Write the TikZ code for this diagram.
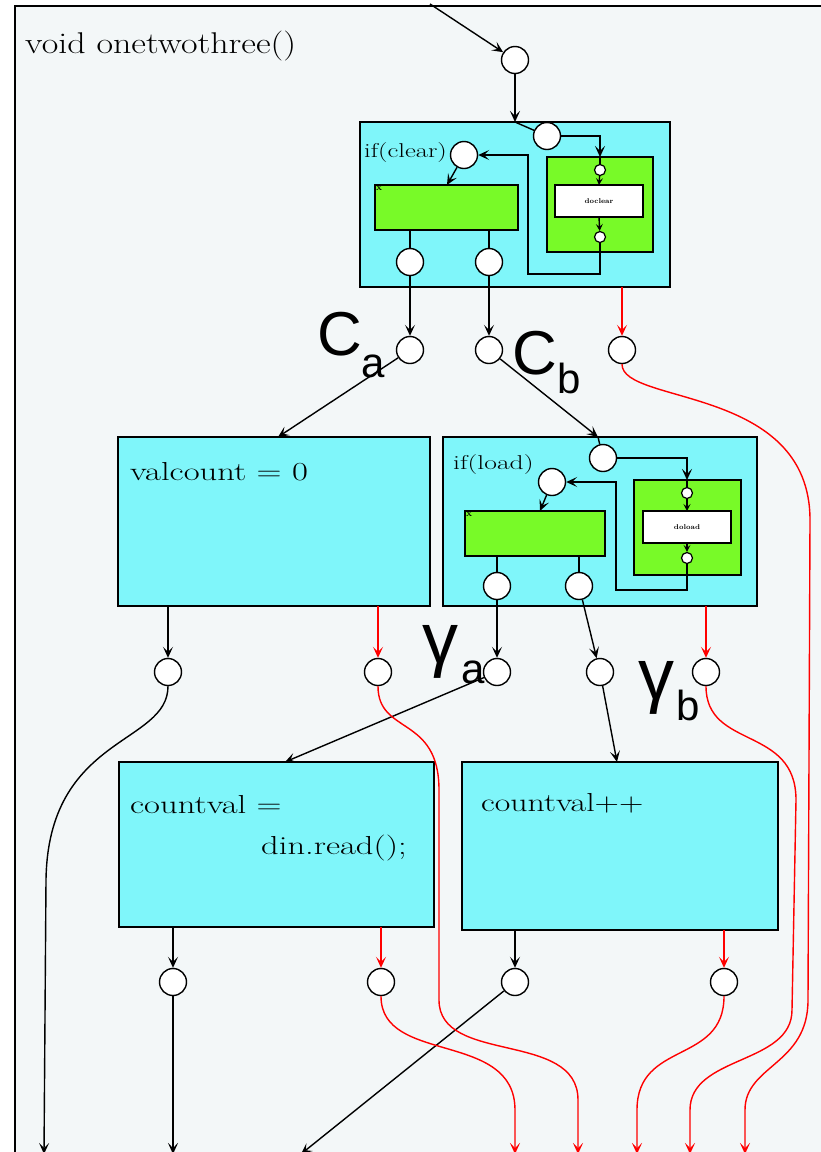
\documentclass[tikz,border=0pt]{standalone}
\usepackage{fontspec}
\usepackage{graphicx}
\newfontfamily\labfont{Liberation Sans}
\newcommand\widetxt[2]{\scalebox{#1}[1]{#2}}
\usetikzlibrary{arrows.meta}
\definecolor{bg}{HTML}{F3F7F8}
\definecolor{cy}{HTML}{7FF6FA}
\definecolor{gr}{HTML}{78FA28}
\tikzset{
  port/.style={circle, draw, fill=white, line width=1.4pt, minimum size=27pt, inner sep=0pt},
  sport/.style={circle, draw, fill=white, line width=1.2pt, minimum size=11pt, inner sep=0pt},
  blk/.style={draw, fill=cy, line width=2pt, inner sep=0pt, outer sep=0pt, anchor=north west},
  gblk/.style={draw, fill=gr, line width=2pt, inner sep=0pt, outer sep=0pt, anchor=north west},
  wblk/.style={draw, fill=white, line width=1.6pt, inner sep=0pt, outer sep=0pt, anchor=north west, font=\fontsize{7}{8}\selectfont\bfseries},
  arr/.style={-{Stealth[length=11pt,width=10pt,inset=5pt]}, line width=1.4pt},
  sarr/.style={-{Stealth[length=7pt,width=7pt,inset=3pt]}, line width=1.4pt},
  rarr/.style={arr, draw=red},
  ln/.style={line width=1.4pt},
  code/.style={anchor=west, inner sep=0pt, font=\fontsize{26}{30}\selectfont},
  cond/.style={anchor=west, inner sep=0pt, font=\fontsize{20}{22}\selectfont},
  xlab/.style={anchor=north west, inner sep=1pt, font=\fontsize{10}{10}\selectfont\bfseries},
  big/.style={inner sep=0pt, font=\labfont\fontsize{62}{64}\selectfont},
  sub/.style={inner sep=0pt, font=\labfont\fontsize{42}{44}\selectfont},
  gam/.style={inner sep=0pt, font=\labfont\fontsize{72}{74}\selectfont},
}
\begin{document}
\begin{tikzpicture}[x=1pt,y=-1pt]
\useasboundingbox (0,0) rectangle (820,1152);
\fill[white] (0,0) rectangle (820,1152);
\fill[bg] (15,6) rectangle (830,1160);
\draw[line width=2pt] (15,1160) -- (15,6) -- (830,6);

\node[anchor=west, inner sep=0pt, font=\fontsize{30}{32}\selectfont] (title) at (25,46) {\widetxt{1.2}{void onetwothree()}};

% ---------- top ----------
\coordinate (in) at (430,4);
\node[port] (c0) at (515,60) {};
\draw[arr] (in) -- (c0);

% ---------- if(clear) block ----------
\node[blk, minimum width=310pt, minimum height=165pt] (box1) at (360,122) {};
\node[gblk, minimum width=143pt, minimum height=45pt] (g1) at (375,185) {};
\node[xlab] (x1) at (g1.north west) {x};
\node[gblk, minimum width=106pt, minimum height=95pt] (g2) at (547,157) {};
\node[wblk, minimum width=88pt, minimum height=32pt] (w1) at (555,185) {doclear};
\node[port] (ci1) at (547,136) {};
\node[port] (cl1) at (464,155) {};
\node[sport] (s1) at (600,170) {};
\node[sport] (s2) at (600,237) {};
\node[port] (b1a) at (410,262) {};
\node[port] (b1b) at (489,262) {};
\node[cond] (t1) at (364,153) {\widetxt{1.33}{if(clear)}};

\draw[arr] (c0) -- (c0 |- box1.north);
\draw[ln] (c0 |- box1.north) -- (ci1);
\draw[arr] (ci1.east) -| (s1 |- g2.north);
\draw[ln] (s1 |- g2.north) -- (s1);
\draw[sarr] (s1) -- (w1.north);
\draw[sarr] (w1.south) -- (s2);
\draw[arr] (s2) |- (528,274) |- (cl1.east);
\draw[arr] (cl1) -- ([xshift=72pt]g1.north west);
\draw[ln] (b1a |- g1.south) -- (b1a);
\draw[ln] (b1b |- g1.south) -- (b1b);

% ---------- C row ----------
\node[port] (ca) at (410,350) {};
\node[port] (cb) at (489,350) {};
\node[port] (cr1) at (622,350) {};
\draw[arr] (b1a) -- (ca);
\draw[arr] (b1b) -- (cb);
\draw[rarr] (cr1 |- box1.south) -- (cr1);
\node[big] (Ca) at (340,334) {C};
\node[sub] (Caa) at (373,366) {a};
\node[big] (Cb) at (535,353) {C};
\node[sub] (Cbb) at (569,378) {b};

% ---------- second row ----------
\node[blk, minimum width=312pt, minimum height=169pt] (box2) at (118,437) {};
\node[code] (t2) at (130,472) {\widetxt{1.33}{valcount = 0}};
\node[blk, minimum width=314pt, minimum height=169pt] (box3) at (443,437) {};
\node[gblk, minimum width=140pt, minimum height=45pt] (g3) at (465,511) {};
\node[xlab] (x3) at (g3.north west) {x};
\node[gblk, minimum width=107pt, minimum height=95pt] (g4) at (634,480) {};
\node[wblk, minimum width=88pt, minimum height=32pt] (w2) at (643,511) {doload};
\node[port] (ci2) at (603,458) {};
\node[port] (cl2) at (552,482) {};
\node[sport] (s3) at (687,493) {};
\node[sport] (s4) at (687,558) {};
\node[port] (b2a) at (497,586) {};
\node[port] (b2b) at (579,586) {};
\node[cond] (t3) at (453,465) {\widetxt{1.38}{if(load)}};

\draw[arr] (ca) -- ([xshift=160pt]box2.north west);
\draw[arr] (cb) -- ([xshift=155pt]box3.north west);
\draw[ln] ([xshift=155pt]box3.north west) -- (ci2);
\draw[arr] (ci2.east) -| (s3 |- g4.north);
\draw[ln] (s3 |- g4.north) -- (s3);
\draw[sarr] (s3) -- (w2.north);
\draw[sarr] (w2.south) -- (s4);
\draw[arr] (s4) |- (616,590) |- (cl2.east);
\draw[arr] (cl2) -- ([xshift=75pt]g3.north west);
\draw[ln] (b2a |- g3.south) -- (b2a);
\draw[ln] (b2b |- g3.south) -- (b2b);

% ---------- gamma row ----------
\node[port] (d1) at (168,672) {};
\node[port] (d2) at (378,672) {};
\node[port] (ga) at (497,672) {};
\node[port] (gb) at (600,672) {};
\node[port] (g2r) at (706,672) {};
\draw[arr] (d1 |- box2.south) -- (d1);
\draw[rarr] (d2 |- box2.south) -- (d2);
\draw[arr] (b2a) -- (ga);
\draw[arr] (b2b) -- (gb);
\draw[rarr] (g2r |- box3.south) -- (g2r);
\node[gam] (Ga) at (440,652) {γ};
\node[sub] (Gaa) at (473,672) {a};
\node[gam] (Gb) at (656,688) {γ};
\node[sub] (Gbb) at (688,705) {b};

% ---------- third row ----------
\node[blk, minimum width=315pt, minimum height=165pt] (box4) at (119,762) {};
\node[code] (t4a) at (130,805) {\widetxt{1.33}{countval =}};
\node[code] (t4b) at (261,848) {\widetxt{1.33}{din.read();}};
\node[blk, minimum width=316pt, minimum height=168pt] (box5) at (462,762) {};
\node[code] (t5) at (481,803) {\widetxt{1.3}{countval++}};
\draw[arr] (ga) -- ([xshift=166pt]box4.north west);
\draw[arr] (gb) -- ([xshift=155pt]box5.north west);

\node[port] (e1) at (173,982) {};
\node[port] (e2) at (381,982) {};
\node[port] (e3) at (515,982) {};
\node[port] (e4) at (724,982) {};
\draw[arr] (e1 |- box4.south) -- (e1);
\draw[rarr] (e2 |- box4.south) -- (e2);
\draw[arr] (e3 |- box5.south) -- (e3);
\draw[rarr] (e4 |- box5.south) -- (e4);

% ---------- outputs ----------
\coordinate (o1) at (44,1154);
\coordinate (o2) at (173,1154);
\coordinate (o3) at (301,1154);
\coordinate (r1) at (515,1154);
\coordinate (r2) at (578,1154);
\coordinate (r3) at (637,1154);
\coordinate (r4) at (690,1154);
\coordinate (r5) at (745,1154);

\draw[arr] (d1.south) .. controls (168,745) and (48,735) .. (46,880) -- (o1);
\draw[arr] (e1) -- (o2);
\draw[arr] (e3) -- (o3);

\draw[rarr] (e2.south) .. controls (381,1065) and (515,1030) .. (515,1110) -- (r1);
\draw[rarr] (d2.south) .. controls (378,735) and (439,715) .. (439,790) -- (439,1000)
   .. controls (439,1065) and (578,1030) .. (578,1100) -- (r2);
\draw[rarr] (e4.south) .. controls (724,1065) and (637,1040) .. (637,1110) -- (r3);
\draw[rarr] (g2r.south) .. controls (706,750) and (796,725) .. (796,800) -- (792,1010)
   .. controls (792,1065) and (690,1055) .. (690,1110) -- (r4);
\draw[rarr] (cr1.south) .. controls (622,405) and (810,385) .. (810,520) -- (808,1000)
   .. controls (808,1065) and (745,1065) .. (745,1110) -- (r5);
\end{tikzpicture}
\end{document}
